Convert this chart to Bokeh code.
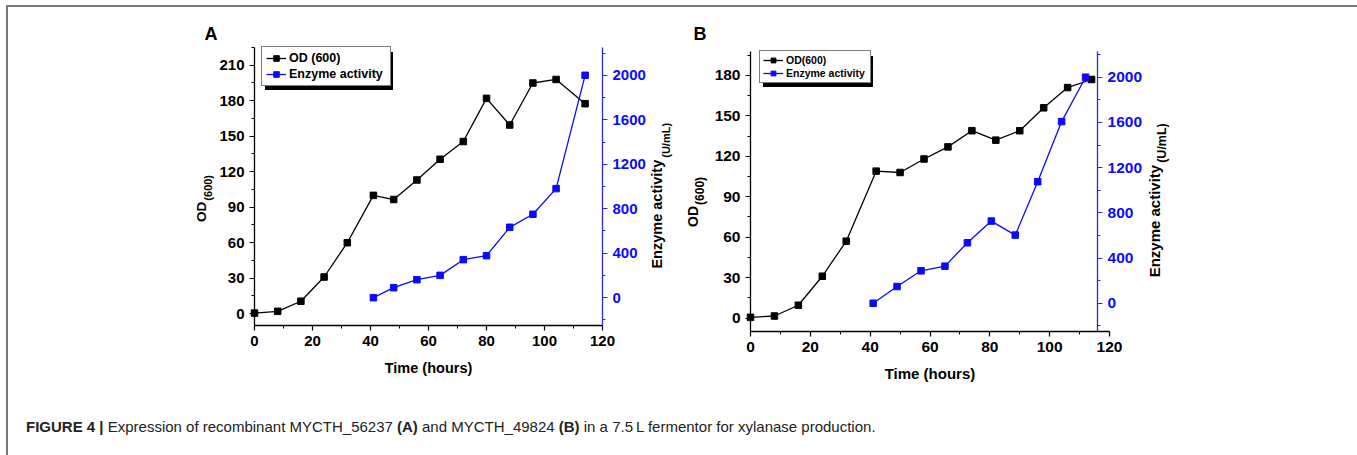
import math
from bokeh.plotting import figure
from bokeh.models import (Range1d, LinearAxis, SingleIntervalTicker, Legend,
                          LegendItem, Label, Div, BoxAnnotation)
from bokeh.layouts import row, column
from bokeh.embed import file_html
from bokeh.resources import INLINE

# ---------------- data ----------------
# Panel A (MYCTH_56237)
time_a_od = [0, 8, 16, 24, 32, 41, 48, 56, 64, 72, 80, 88, 96, 104, 114]
od_a = [0.5, 2, 10.5, 31, 60, 100, 96.5, 113, 130.5, 145.5, 182, 159.5, 195, 198, 177.5]
time_a_enz = [41, 48, 56, 64, 72, 80, 88, 96, 104, 114]
enz_a = [0, 90, 162, 201, 342, 378, 633, 750, 981, 2000]

# Panel B (MYCTH_49824)
time_b_od = [0, 8, 16, 24, 32, 42, 50, 58, 66, 74, 82, 90, 98, 106, 114]
od_b = [0.5, 1.5, 9.5, 31, 57, 109, 108, 118, 127, 139, 132, 139, 156, 171, 177]
time_b_enz = [41, 49, 57, 65, 72.5, 80.5, 88.5, 96, 104, 112]
enz_b = [0, 148, 287, 328, 535, 727, 603, 1075, 1607, 2000]

x_label = "Time (hours)"
od_legend_a = "OD (600)"
od_legend_b = "OD(600)"
enz_legend = "Enzyme activity"
caption_html = ('<b>FIGURE 4 |</b> Expression of recombinant MYCTH_56237 <b>(A)</b> and '
                'MYCTH_49824 <b>(B)</b> in a 7.5\u2009L fermentor for xylanase production.')

FONT = "Liberation Sans"
BLUE = "#0a0aff"
AXBLUE = "#2a2ad8"
HALF = math.pi / 2


def span_range(d0, d1, p0, p1, total, flip=False):
    """Range so that data d0/d1 land on pixel p0/p1 of a frame of size total."""
    if flip:  # vertical: pixels measured from top
        per = (p0 - p1) / (d1 - d0)
        return Range1d(d0 - (total - p0) / per, d1 + p1 / per)
    per = (p1 - p0) / (d1 - d0)
    return Range1d(d0 - p0 / per, d1 + (total - p1) / per)


def add_label(p, text, x, y, xo=0, yo=0, size="14px", angle=0.0, align="left",
              baseline="middle", color="black"):
    p.add_layout(Label(x=x, y=y, x_offset=xo, y_offset=yo, text=text, angle=angle,
                       text_align=align, text_baseline=baseline, text_color=color,
                       text_font=FONT, text_font_style="bold", text_font_size=size))


def style_axis(ax, fs, color="black", lcolor="black"):
    ax.axis_line_color = color
    ax.axis_line_width = 1.3
    ax.major_tick_line_color = color
    ax.minor_tick_line_color = color
    ax.major_tick_line_width = 1.2
    ax.minor_tick_line_width = 1.0
    ax.major_tick_in = 0
    ax.major_tick_out = 5
    ax.minor_tick_in = 0
    ax.minor_tick_out = 3
    ax.major_label_text_font = FONT
    ax.major_label_text_font_style = "bold"
    ax.major_label_text_font_size = fs
    ax.major_label_text_color = lcolor
    ax.major_label_standoff = 5


def panel(g, t_od, od, t_enz, enz, leg, labels):
    W, H = g["W"], g["H"]
    xr, yr, yr2 = g["xr"], g["yr"], g["yr2"]
    p = figure(width=W, height=H,
               x_range=span_range(xr[0], xr[1], g["px"][0], g["px"][1], W),
               y_range=span_range(yr[0], yr[1], g["py"][0], g["py"][1], H, flip=True),
               x_axis_type=None, y_axis_type=None,
               output_backend="svg", toolbar_location=None,
               min_border=0, min_border_left=0, min_border_right=0,
               min_border_top=0, min_border_bottom=0)
    p.extra_y_ranges = {"enz": span_range(yr2[0], yr2[1], g["py"][0], g["py"][1], H, flip=True)}
    p.grid.visible = False
    p.outline_line_color = None
    p.background_fill_color = "white"
    p.border_fill_color = "white"

    fs = g["fs"]
    xa = LinearAxis(ticker=SingleIntervalTicker(interval=20, num_minor_ticks=2),
                    fixed_location=yr[0], bounds=(xr[0], xr[1]))
    style_axis(xa, fs)
    p.add_layout(xa, "below")

    ya = LinearAxis(ticker=SingleIntervalTicker(interval=30, num_minor_ticks=2),
                    fixed_location=xr[0], bounds=(yr[0], yr[1]))
    style_axis(ya, fs)
    p.add_layout(ya, "left")

    ya2 = LinearAxis(y_range_name="enz",
                     ticker=SingleIntervalTicker(interval=400, num_minor_ticks=2),
                     fixed_location=g["enz_loc"], bounds=(yr2[0], yr2[1]))
    style_axis(ya2, fs, AXBLUE, BLUE)
    p.add_layout(ya2, "right")

    l1 = p.line(t_od, od, line_color="black", line_width=1.3)
    s1 = p.scatter(t_od, od, marker="square", size=6.5, fill_color="black", line_color="black")
    l2 = p.line(t_enz, enz, line_color=BLUE, line_width=1.3, y_range_name="enz")
    s2 = p.scatter(t_enz, enz, marker="square", size=6.5, fill_color=BLUE, line_color=BLUE,
                   y_range_name="enz")

    # legend box geometry (pixels) -> drop shadow behind it
    lx, ly = leg["loc"]
    lw = 2 * leg["pad"] + leg["gw"] + 3 + leg["lw"]
    lh = 2 * leg["pad"] + 2 * leg["gh"] + leg["spacing"]
    top_px = H - ly - lh
    xs, xe = p.x_range.start, p.x_range.end
    ys, ye = p.y_range.start, p.y_range.end

    def dx(px):
        return xs + px * (xe - xs) / W

    def dy(py):
        return ye - py * (ye - ys) / H

    p.add_layout(BoxAnnotation(left=dx(lx + 3.5), right=dx(lx + lw + 3.5),
                               top=dy(top_px + 3.5), bottom=dy(top_px + lh + 3.5),
                               fill_color="black", fill_alpha=1.0, line_color=None))

    p.add_layout(Legend(items=[LegendItem(label=leg["od"], renderers=[l1, s1]),
                               LegendItem(label=enz_legend, renderers=[l2, s2])],
                        location=(lx, ly), orientation="vertical",
                        padding=leg["pad"], spacing=leg["spacing"], margin=0,
                        glyph_width=leg["gw"], glyph_height=leg["gh"], label_height=leg["gh"],
                        label_width=leg["lw"], label_standoff=3,
                        label_text_font=FONT, label_text_font_style="bold",
                        label_text_font_size=leg["fs"], label_text_color="black",
                        border_line_color="black", border_line_width=1.2,
                        background_fill_color="white", background_fill_alpha=1.0))

    for lb in labels:
        add_label(p, **lb)
    return p


# panel geometry (pixels inside each figure)
geo_a = dict(W=671, H=388, xr=(0, 120), yr=(-10, 225), yr2=(-250, 2250),
             px=(246, 594), py=(318, 40), enz_loc=120, fs="15px")
geo_b = dict(W=674, H=388, xr=(0, 120), yr=(-10, 198), yr2=(-250, 2230),
             px=(71, 430), py=(324, 43.7), enz_loc=116, fs="15.5px")

pa = panel(geo_a, time_a_od, od_a, time_a_enz, enz_a,
           dict(od=od_legend_a, pad=4, spacing=2, gw=20, gh=14, lw=97, fs="12.5px",
                loc=(253, 309)),
           [dict(text="OD", x=0, y=94.7, xo=-53, angle=HALF, align="right", size="13.5px"),
            dict(text="(600)", x=0, y=94.7, xo=-47, yo=1, angle=HALF, align="left", size="11px"),
            dict(text="Enzyme activity", x=120, y=130.1, xo=54.5, angle=HALF, align="right",
                 size="14.5px"),
            dict(text="(U/mL)", x=120, y=130.1, xo=63, yo=2, angle=HALF, align="left",
                 size="11px"),
            dict(text=x_label, x=60, y=-10, yo=-42.5, align="center", size="14.5px"),
            dict(text="A", x=0, y=225, xo=-50, yo=13.5, size="18px")])

pb = panel(geo_b, time_b_od, od_b, time_b_enz, enz_b,
           dict(od=od_legend_b, pad=3, spacing=1, gw=20, gh=12, lw=81, fs="10.5px",
                loc=(80, 312)),
           [dict(text="OD", x=0, y=83.2, xo=-58, angle=HALF, align="right", size="14px"),
            dict(text="(600)", x=0, y=83.2, xo=-51, yo=1, angle=HALF, align="left", size="12px"),
            dict(text="Enzyme activity", x=120, y=113.7, xo=45, angle=HALF, align="right",
                 size="15px"),
            dict(text="(U/mL)", x=120, y=113.7, xo=52, yo=2, angle=HALF, align="left",
                 size="12.5px"),
            dict(text=x_label, x=60, y=-10, yo=-41.5, align="center", size="15px"),
            dict(text="B", x=0, y=198, xo=-57, yo=17.2, size="18px")])

caption = Div(text='<div style="padding:16px 0 0 13px; font-family:\'Liberation Sans Narrow\', '
                   '\'Liberation Sans\', sans-serif; font-size:15px; color:#222; '
                   'white-space:nowrap;">' + caption_html + '</div>',
              width=1345, height=52)

layout = column(row(pa, pb), caption,
                styles={"margin-left": "6px", "margin-top": "5px",
                        "border-top": "2px solid #777", "border-left": "2px solid #777",
                        "border-right": "2px solid #777"})

open("out.html", "w").write(file_html(layout, INLINE))
